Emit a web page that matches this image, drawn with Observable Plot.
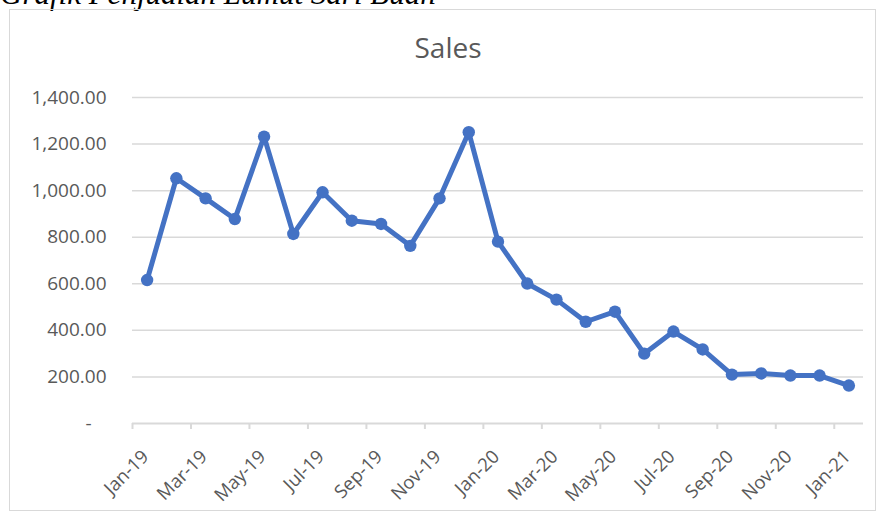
<!DOCTYPE html>
<html>
<head>
<meta charset="utf-8">
<script src="https://cdn.jsdelivr.net/npm/d3@7"></script>
<script src="https://cdn.jsdelivr.net/npm/@observablehq/plot@0.6"></script>
<style>
  html, body { margin: 0; padding: 0; background: #fff; }
  #wrap { position: relative; width: 877px; height: 513px; overflow: hidden; background: #fff; }
  #caption { position: absolute; left: 0; top: -22px; font-family: "Liberation Serif", serif; font-style: italic; font-size: 31px; line-height: 31px; color: #000; white-space: nowrap; }
  #box { position: absolute; left: 9px; top: 9px; width: 867px; height: 502px; border: 1px solid #d9d9d9; box-sizing: border-box; }
  #title { position: absolute; left: 348px; width: 200px; top: 33px; text-align: center; font-family: "Open Sans", sans-serif; font-size: 28px; line-height: 28px; color: #595959; }
  #chart { position: absolute; left: 0; top: 0; }
</style>
</head>
<body>
<div id="wrap">
  <div id="caption">Grafik Penjualan Lumut Sari Buah</div>
  <div id="box"></div>
  <div id="chart"></div>
  <div id="title">Sales</div>
</div>
<script>
const months = ["Jan-19","Feb-19","Mar-19","Apr-19","May-19","Jun-19","Jul-19","Aug-19","Sep-19","Oct-19","Nov-19","Dec-19",
                "Jan-20","Feb-20","Mar-20","Apr-20","May-20","Jun-20","Jul-20","Aug-20","Sep-20","Oct-20","Nov-20","Dec-20","Jan-21"];
const sales = [616, 1053, 967, 878, 1232, 814, 993, 871, 857, 763, 967, 1251,
               781, 601, 532, 437, 480, 300, 395, 318, 210, 215, 206, 206, 163];
const yTicks = [0, 200, 400, 600, 800, 1000, 1200, 1400];
const xTickMonths = ["Jan-19","Mar-19","May-19","Jul-19","Sep-19","Nov-19","Jan-20","Mar-20","May-20","Jul-20","Sep-20","Nov-20","Jan-21"];

const data = months.map((m, i) => ({month: m, idx: i + 0.5, sales: sales[i]}));
const xTicks = xTickMonths.map(m => months.indexOf(m));
const fmt = d3.format(",.2f");

const chart = Plot.plot({
  width: 877,
  height: 513,
  marginLeft: 132,
  marginRight: 14,
  marginTop: 97,
  marginBottom: 90,
  x: {domain: [0, months.length]},
  y: {domain: [0, 1400]},
  style: {fontFamily: "'Open Sans', sans-serif", fontSize: "18px", color: "#595959", background: "transparent", overflow: "visible"},
  marks: [
    Plot.gridY(yTicks.filter(d => d > 0), {stroke: "#d9d9d9", strokeOpacity: 1, strokeWidth: 1.5}),
    Plot.ruleY([0], {stroke: "#d9d9d9", strokeWidth: 2}),
    Plot.axisY(yTicks, {tickSize: 0, tickPadding: 26, fontSize: 19, tickFormat: d => d === 0 ? "-\u00a0\u00a0\u00a0" : fmt(d), fill: "#595959", label: null}),
    Plot.axisX(xTicks, {tickSize: 6, stroke: "#d9d9d9", strokeWidth: 2, strokeOpacity: 1, tickFormat: () => "", label: null}),
    Plot.axisX(xTicks, {tickSize: 0, tickPadding: 0, fill: "#595959", fontSize: 18.5,
      tickFormat: i => months[i], tickRotate: -45, label: null, dx: 13, dy: 30}),
    Plot.line(data, {x: "idx", y: "sales", stroke: "#4472C4", strokeWidth: 5, strokeLinejoin: "round", strokeLinecap: "round"}),
    Plot.dot(data, {x: "idx", y: "sales", r: 6.2, fill: "#4472C4", stroke: "none"})
  ]
});
document.getElementById("chart").appendChild(chart);
</script>
</body>
</html>
